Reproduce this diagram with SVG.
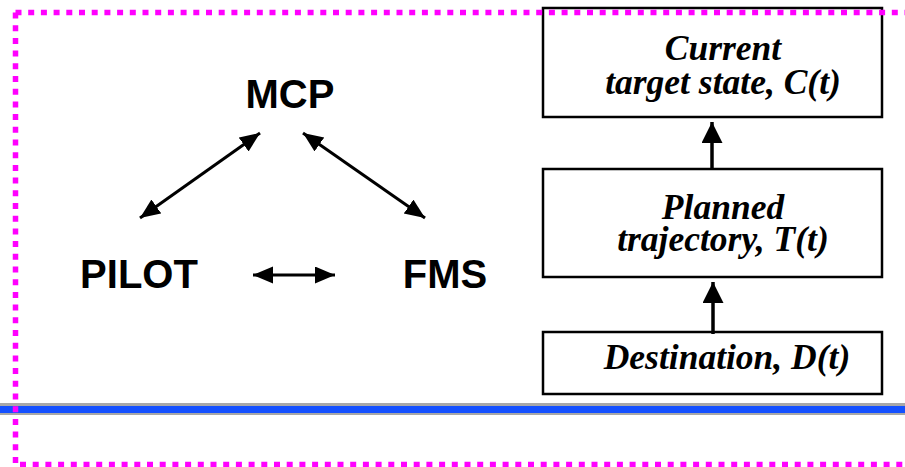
<svg xmlns="http://www.w3.org/2000/svg" width="905" height="467" viewBox="0 0 905 467">
  <style>
    .box { fill: #ffffff; stroke: #000000; stroke-width: 2.5; }
    .lbl { font-family: "Liberation Serif", "Times New Roman", serif; font-weight: bold; font-style: italic; font-size: 35.5px; fill: #000000; text-anchor: middle; }
    .actor { font-family: "Liberation Sans", Arial, sans-serif; font-weight: bold; font-size: 40px; fill: #000000; text-anchor: middle; }
    .link { fill: none; stroke: #000000; stroke-width: 3; }
    .flow { fill: none; stroke: #000000; stroke-width: 3.5; }
    .frame { fill: none; stroke: #ff00ff; stroke-width: 5.5; stroke-dasharray: 6 6.7; }
  </style>
  <defs>
    <marker id="head" markerUnits="userSpaceOnUse" markerWidth="22" markerHeight="18" refX="20" refY="8.5" orient="auto-start-reverse">
      <path d="M0,0 L20,8.5 L0,17 Z" fill="#000000"/>
    </marker>
    <marker id="headBig" markerUnits="userSpaceOnUse" markerWidth="22" markerHeight="22" refX="21" refY="10.5" orient="auto">
      <path d="M0,0 L21,10.5 L0,21 Z" fill="#000000"/>
    </marker>
  </defs>

  <rect width="905" height="467" fill="#ffffff"/>

  <!-- separator rule -->
  <rect x="0" y="403" width="905" height="12" fill="#a8a8a8"/>
  <rect x="0" y="406" width="905" height="7" fill="#1450ff"/>

  <!-- actors -->
  <g id="mcp"><text class="actor" x="290" y="108">MCP</text></g>
  <g id="pilot"><text class="actor" x="139" y="288">PILOT</text></g>
  <g id="fms"><text class="actor" x="445" y="288">FMS</text></g>

  <!-- state boxes -->
  <g id="current">
    <rect class="box" x="543" y="8" width="339" height="109"/>
    <text class="lbl" x="723" y="60">Current</text>
    <text class="lbl" x="723" y="94">target state, C(t)</text>
  </g>
  <g id="planned">
    <rect class="box" x="543" y="169" width="339" height="108"/>
    <text class="lbl" x="723" y="219">Planned</text>
    <text class="lbl" x="723" y="251">trajectory, T(t)</text>
  </g>
  <g id="destination">
    <rect class="box" x="543" y="332" width="339" height="62"/>
    <text class="lbl" x="727" y="369">Destination, D(t)</text>
  </g>

  <!-- connectors -->
  <g id="connectors">
    <line class="link" x1="140" y1="218" x2="260" y2="133" marker-start="url(#head)" marker-end="url(#head)"/>
    <line class="link" x1="303" y1="133" x2="425" y2="218" marker-start="url(#head)" marker-end="url(#head)"/>
    <line class="link" x1="253" y1="275" x2="335" y2="275" marker-start="url(#head)" marker-end="url(#head)"/>
    <line class="flow" x1="712" y1="169" x2="712" y2="122" marker-end="url(#headBig)"/>
    <line class="flow" x1="713" y1="334" x2="713" y2="282" marker-end="url(#headBig)"/>
  </g>

  <!-- dotted frame -->
  <path class="frame" d="M15.5,12.5 H905 M15.5,12.5 V465 M20,464.5 H905"/>
</svg>
